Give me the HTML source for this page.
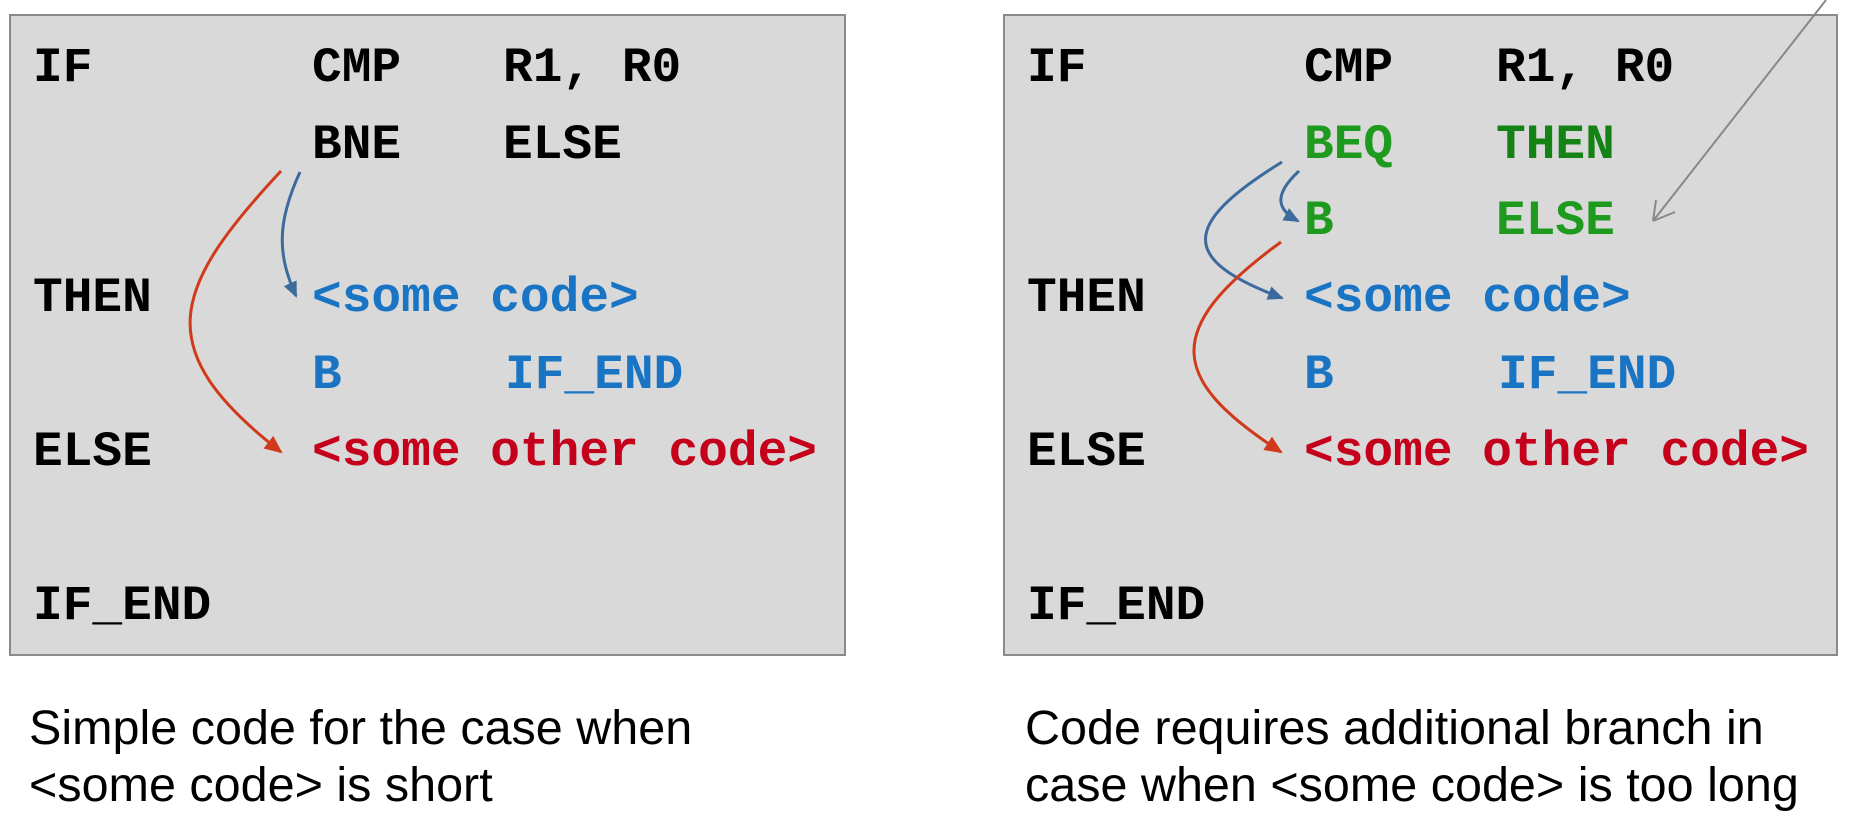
<!DOCTYPE html>
<html><head><style>
body{margin:0;width:1850px;height:820px;background:#fff;position:relative;overflow:hidden}
.box{position:absolute;background:#d9d9d9;border:2px solid #8a8a8a;box-sizing:border-box}
.t{position:absolute;font-family:"Liberation Mono",monospace;font-weight:bold;font-size:49.5px;line-height:50px;white-space:pre;transform:translateY(-50%)}
.k{color:#000}.b{color:#1a74c4}.g{color:#1e9a1e}.r{color:#c4001a}
.cap{position:absolute;font-family:"Liberation Sans",sans-serif;font-size:48.5px;line-height:57px;color:#000}
</style></head><body>
<div class="box" style="left:9px;top:14px;width:837px;height:642px"></div>
<div class="box" style="left:1003px;top:14px;width:835px;height:642px"></div>

<div class="t k" style="left:33px;top:68px">IF</div>
<div class="t k" style="left:312px;top:68px">CMP</div>
<div class="t k" style="left:503px;top:68px">R1, R0</div>
<div class="t k" style="left:312px;top:145px">BNE</div>
<div class="t k" style="left:503px;top:145px">ELSE</div>
<div class="t k" style="left:33px;top:298px">THEN</div>
<div class="t b" style="left:312px;top:298px">&lt;some code&gt;</div>
<div class="t b" style="left:312px;top:375px">B</div>
<div class="t b" style="left:505px;top:375px">IF_END</div>
<div class="t k" style="left:33px;top:452px">ELSE</div>
<div class="t r" style="left:312px;top:452px">&lt;some other code&gt;</div>
<div class="t k" style="left:33px;top:606px">IF_END</div>

<div class="t k" style="left:1027px;top:68px">IF</div>
<div class="t k" style="left:1304px;top:68px">CMP</div>
<div class="t k" style="left:1496px;top:68px">R1, R0</div>
<div class="t g" style="left:1304px;top:145px">BEQ</div>
<div class="t g" style="left:1496px;top:145px;color:#148214">THEN</div>
<div class="t g" style="left:1304px;top:221px">B</div>
<div class="t g" style="left:1496px;top:221px">ELSE</div>
<div class="t k" style="left:1027px;top:298px">THEN</div>
<div class="t b" style="left:1304px;top:298px">&lt;some code&gt;</div>
<div class="t b" style="left:1304px;top:375px">B</div>
<div class="t b" style="left:1498px;top:375px">IF_END</div>
<div class="t k" style="left:1027px;top:452px">ELSE</div>
<div class="t r" style="left:1304px;top:452px">&lt;some other code&gt;</div>
<div class="t k" style="left:1027px;top:606px">IF_END</div>

<div class="cap" style="left:29px;top:700px">Simple code for the case when<br>&lt;some code&gt; is short</div>
<div class="cap" style="left:1025px;top:700px">Code requires additional branch in<br>case when &lt;some code&gt; is too long</div>

<svg width="1850" height="820" style="position:absolute;left:0;top:0">
<defs>
<marker id="mb" markerWidth="16" markerHeight="14" refX="14" refY="7" orient="auto" markerUnits="userSpaceOnUse"><path d="M0,0 L16,7 L0,14 z" fill="#3d6a9c"/></marker>
<marker id="mr" markerWidth="18" markerHeight="16" refX="16" refY="8" orient="auto" markerUnits="userSpaceOnUse"><path d="M0,0 L18,8 L0,16 z" fill="#d03a1a"/></marker>
</defs>
<g fill="none" stroke-width="3">
<path d="M300,172 C276,224 278,256 296,296" stroke="#3d6a9c" marker-end="url(#mb)"/>
<path d="M281,171 C170,290 150,350 281,452" stroke="#d03a1a" marker-end="url(#mr)"/>
<path d="M1282,162 C1180,225 1180,260 1282,298" stroke="#3d6a9c" marker-end="url(#mb)"/>
<path d="M1299,171 C1272,196 1278,210 1298,221" stroke="#3d6a9c" marker-end="url(#mb)"/>
<path d="M1281,242 C1160,330 1170,380 1281,452" stroke="#d03a1a" marker-end="url(#mr)"/>
</g>
<path d="M1826,0 L1653,221 M1653,221 L1656,200 M1653,221 L1675,212" stroke="#888" stroke-width="2" fill="none"/>
</svg>
</body></html>
